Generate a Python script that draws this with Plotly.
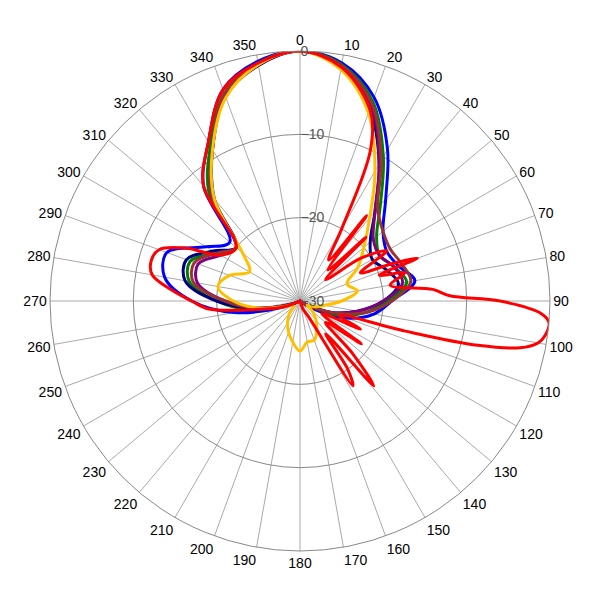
import plotly.graph_objects as go

theta = list(range(0, 361, 10))
blue   = [0,-1,-4,-9,-14,-17,-18,-17.5,-16,-19,-21,-24,-28,-30,-30,-30,-30,-30,-30,-30,-30,-30,-30,-30,-30,-28,-22,-17,-13.5,-13,-17,-19,-12,-8,-3,-0.8,0]
green  = [0,-1.2,-4.5,-10,-15,-18,-19,-18,-17,-19.5,-22,-25,-29,-30,-30,-30,-30,-30,-30,-30,-30,-30,-30,-30,-30,-29,-24,-20,-16.5,-16,-18.5,-20,-13,-8.5,-3.5,-1,0]
purple = [0,-1.5,-5,-11,-16,-18.5,-19,-18,-17.5,-20,-23,-26,-29,-30,-30,-30,-30,-30,-30,-30,-30,-30,-30,-30,-30,-29,-25,-21,-17.5,-17,-19,-20,-13.5,-9,-3.8,-1.2,0]
brown  = [0,-1.3,-4.8,-10.5,-15.5,-17,-17.5,-17,-16.5,-19,-22,-26,-29,-30,-30,-30,-30,-30,-30,-30,-30,-30,-30,-30,-30,-29,-25,-21,-17,-16.5,-18.5,-20,-13.5,-9,-3.5,-1.1,0]
navy   = [0,-1.5,-5.5,-11,-16,-19,-20,-19,-18,-20,-23,-26,-29,-30,-30,-30,-30,-30,-30,-30,-30,-30,-30,-30,-30,-29,-25,-20,-16,-15.5,-18,-20,-14,-9,-3.8,-1.3,0]
yellow = [0,-1.8,-6,-12,-17,-20,-22,-24,-23,-25,-27,-28,-29,-28,-27,-26,-25,-25,-24,-25,-26,-27,-28,-29,-29,-28,-25,-22,-20,-21,-23,-21,-14,-9,-4,-1.2,0]

theta_red = [0,10,20,25,30,35,38,42,46,50,55,60,65,68,70,72,75,80,85,88,90,93,95,98,100,102,104,106,110,115,120,125,130,135,139,142,145,148,152,160,180,200,230,250,260,265,270,275,280,285,290,295,300,310,320,330,340,350,360]
red = [0,-1.5,-5.5,-10,-20,-24,-17,-25,-19,-26,-21,-18,-22,-18,-15,-20,-17,-19,-14,-12,-6,-1,0,-0.3,-1,-3,-8,-17,-25,-22,-27,-21,-26,-21,-16.5,-25,-20,-18,-28,-29,-30,-30,-30,-28,-24,-19,-17,-14.5,-12,-11.5,-12,-15,-19,-20,-12,-8,-3,-1,0]

fig = go.Figure()
for name, r, t, c in [("blue", blue, theta, "#0000ff"), ("green", green, theta, "#008000"),
                      ("navy", navy, theta, "#000080"), ("purple", purple, theta, "#800080"),
                      ("brown", brown, theta, "#993333"), ("yellow", yellow, theta, "#ffc000"),
                      ("red", red, theta_red, "#ff0000")]:
    fig.add_trace(go.Scatterpolar(r=r, theta=t, mode="lines", name=name,
                                  line=dict(color=c, width=3, shape="spline")))

fig.update_layout(
    width=600, height=600, showlegend=False, paper_bgcolor="white",
    margin=dict(l=42, r=58, t=43, b=57),
    font=dict(family="Liberation Sans, Arial", size=14, color="#000"),
    polar=dict(
        bgcolor="white",
        radialaxis=dict(range=[-30, 0], tickvals=[-30, -20, -10, 0], angle=90, tickangle=90,
                        showline=False, gridcolor="#888", ticks="", tickfont=dict(color="#555", size=14)),
        angularaxis=dict(rotation=90, direction="clockwise", tickvals=list(range(0, 360, 10)),
                         gridcolor="#aaa", linecolor="#888", ticks="", tickfont=dict(size=14)),
    ),
)
fig.write_html("out.html")
